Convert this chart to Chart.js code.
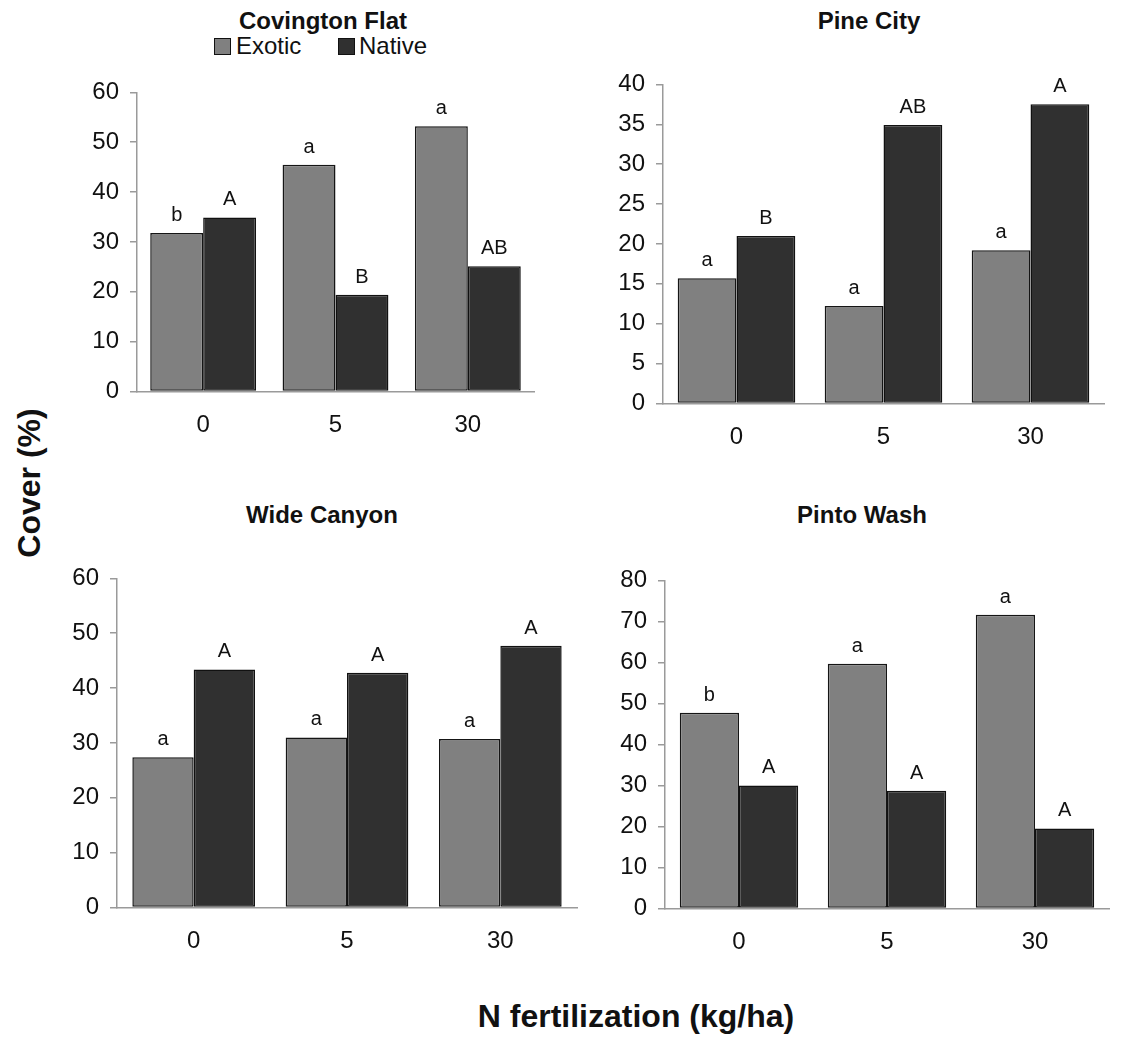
<!DOCTYPE html>
<html>
<head>
<meta charset="utf-8">
<script src="https://cdn.jsdelivr.net/npm/chart.js@4.4.0/dist/chart.umd.min.js"></script>
<style>
  body { margin: 0; background: #fff; font-family: "Liberation Sans", Arial, sans-serif; }
  #page { position: relative; width: 1122px; height: 1038px; overflow: hidden; background: #fff; }
  .box { position: absolute; }
  .ttl { position: absolute; width: 400px; text-align: center; font-weight: bold; font-size: 24px; line-height: 24px; color: #111; }
  .leg { position: absolute; font-size: 24px; line-height: 24px; color: #111; }
  .sw { position: absolute; width: 15px; height: 15px; border: 1px solid #111; }
</style>
</head>
<body>
<div id="page">
  <div class="ttl" style="left:123px; top:9px;">Covington Flat</div>
  <div class="sw" style="left:214px; top:38px; background:#808080;"></div>
  <div class="leg" style="left:236px; top:34px;">Exotic</div>
  <div class="sw" style="left:338px; top:38px; background:#303030;"></div>
  <div class="leg" style="left:359px; top:34px;">Native</div>
  <div class="ttl" style="left:669px; top:9px;">Pine City</div>
  <div class="ttl" style="left:122px; top:503px;">Wide Canyon</div>
  <div class="ttl" style="left:662px; top:503px;">Pinto Wash</div>
  <div style="position:absolute; left:29px; top:483px; transform:translate(-50%,-50%) rotate(-90deg); font-weight:bold; font-size:32px; line-height:32px; white-space:nowrap; color:#111;">Cover (%)</div>
  <div style="position:absolute; left:636px; top:1000px; transform:translateX(-50%); font-weight:bold; font-size:32px; line-height:32px; white-space:nowrap; color:#111;">N fertilization (kg/ha)</div>

  <canvas id="c1" class="box"></canvas>
  <canvas id="c2" class="box"></canvas>
  <canvas id="c3" class="box"></canvas>
  <canvas id="c4" class="box"></canvas>
</div>
<script>
// N fertilization levels (kg/ha)
var categories = ['0', '5', '30'];

// cover (%) per site
var exoticCovington = [31.8, 45.5, 53.2];
var nativeCovington = [34.9, 19.4, 25.1];
var exoticPine = [15.7, 12.2, 19.2];
var nativePine = [21.0, 34.9, 37.5];
var exoticWide = [27.4, 31.0, 30.7];
var nativeWide = [43.4, 42.8, 47.7];
var exoticPinto = [47.7, 59.7, 71.6];
var nativePinto = [30.0, 28.7, 19.5];

// significance letters above the bars
var exoticLettersCovington = ['b', 'a', 'a'];
var nativeLettersCovington = ['A', 'B', 'AB'];
var exoticLettersPine = ['a', 'a', 'a'];
var nativeLettersPine = ['B', 'AB', 'A'];
var exoticLettersWide = ['a', 'a', 'a'];
var nativeLettersWide = ['A', 'A', 'A'];
var exoticLettersPinto = ['b', 'a', 'a'];
var nativeLettersPinto = ['A', 'A', 'A'];

// y axis ticks
var yMax = [60, 40, 60, 80];
var yStep = [10, 5, 10, 10];

var FONT = '"Liberation Sans", Arial, sans-serif';
var AXIS_W = 60, XAX_H = 56, PAD_T = 20, PAD_R = 10;

//letters drawn over each bar
var letterPlugin = {
  id: 'letters',
  afterDatasetsDraw: function(chart) {
    var ctx = chart.ctx;
    ctx.save();
    ctx.font = '20px ' + FONT;
    ctx.fillStyle = '#111';
    ctx.textAlign = 'center';
    ctx.textBaseline = 'alphabetic';
    chart.data.datasets.forEach(function(ds, i) {
      var meta = chart.getDatasetMeta(i);
      meta.data.forEach(function(bar, j) {
        ctx.fillText(ds.letters[j], bar.x, bar.y - 12);
      });
    });
    ctx.restore();
  }
};

function makeChart(id, box, exotic, native, exL, naL, max, step) {
  var cv = document.getElementById(id);
  var w = AXIS_W + box.plotW + PAD_R;
  var h = PAD_T + box.plotH + XAX_H;
  cv.style.width = w + 'px';
  cv.style.height = h + 'px';
  cv.width = w;
  cv.height = h;

  var chart = new Chart(cv, {
    type: 'bar',
    data: {
      labels: categories,
      datasets: [
        { label: 'Exotic', data: exotic, letters: exL, backgroundColor: '#808080', borderColor: '#151515', borderWidth: 1.5, borderSkipped: false },
        { label: 'Native', data: native, letters: naL, backgroundColor: '#303030', borderColor: '#111', borderWidth: 1.5, borderSkipped: false }
      ]
    },
    options: {
      responsive: false,
      maintainAspectRatio: false,
      animation: false,
      events: [],
      layout: { padding: { top: PAD_T, right: PAD_R, left: 0, bottom: 0 } },
      plugins: { legend: { display: false }, tooltip: { enabled: false } },
      datasets: { bar: { categoryPercentage: 0.8, barPercentage: 1.0 } },
      scales: {
        x: {
          grid: { display: false, drawTicks: false },
          border: { display: true, color: '#9a9a9a', width: 1.5 },
          ticks: { color: '#111', font: { family: FONT, size: 24 }, padding: 20 },
          afterFit: function(s) { s.height = XAX_H; }
        },
        y: {
          min: 0, max: max,
          grid: { display: true, drawOnChartArea: false, drawTicks: true, tickLength: 7, color: '#9a9a9a', lineWidth: 1.5 },
          border: { display: true, color: '#9a9a9a', width: 1.5 },
          ticks: { stepSize: step, color: '#111', font: { family: FONT, size: 24 }, padding: 11 },
          afterFit: function(s) { s.width = AXIS_W; }
        }
      }
    },
    plugins: [letterPlugin]
  });

  // fix the plot box so it sits where the original one does
  var ca = chart.chartArea;
  var dw = box.plotW - (ca.right - ca.left);
  var dh = box.plotH - (ca.bottom - ca.top);
  if (dw !== 0 || dh !== 0) {
    chart.resize(w + dw, h + dh);
    ca = chart.chartArea;
  }
  cv.style.left = (box.axisX - ca.left) + 'px';
  cv.style.top = (box.top - ca.top) + 'px';
  return chart;
}

makeChart('c1', { axisX: 137, top: 92, plotW: 397, plotH: 299 }, exoticCovington, nativeCovington, exoticLettersCovington, nativeLettersCovington, yMax[0], yStep[0]);
makeChart('c2', { axisX: 663, top: 84, plotW: 441, plotH: 319 }, exoticPine, nativePine, exoticLettersPine, nativeLettersPine, yMax[1], yStep[1]);
makeChart('c3', { axisX: 117, top: 578, plotW: 460, plotH: 329 }, exoticWide, nativeWide, exoticLettersWide, nativeLettersWide, yMax[2], yStep[2]);
makeChart('c4', { axisX: 665, top: 580, plotW: 444, plotH: 328 }, exoticPinto, nativePinto, exoticLettersPinto, nativeLettersPinto, yMax[3], yStep[3]);
</script>
</body>
</html>
